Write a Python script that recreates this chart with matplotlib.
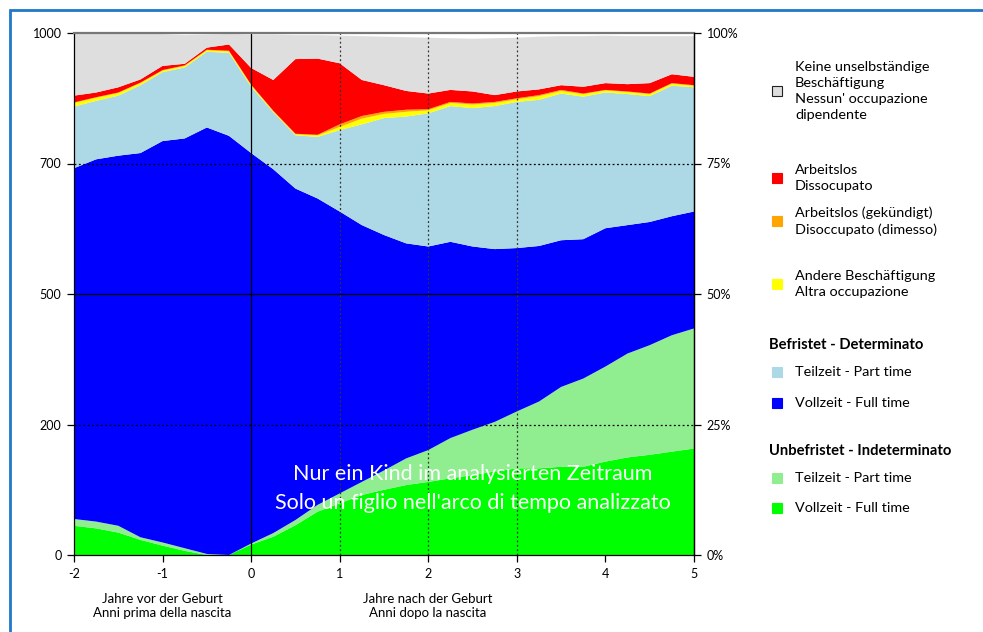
import numpy as np
import matplotlib
matplotlib.use("Agg")
import matplotlib.pyplot as plt
from matplotlib.patches import Rectangle

plt.rcParams['font.family'] = ['Lato', 'DejaVu Sans']

# Jahre relativ zur Geburt / anni rispetto alla nascita
anni = [-2.0, -1.75, -1.5, -1.25, -1.0, -0.75, -0.5, -0.25, 0.0, 0.25, 0.5, 0.75,
        1.0, 1.25, 1.5, 1.75, 2.0, 2.25, 2.5, 2.75, 3.0, 3.25, 3.5, 3.75,
        4.0, 4.25, 4.5, 4.75, 5.0]

# Unbefristet - Vollzeit
unbef_voll = [56, 51, 43, 29, 18, 8, 0, 0, 20, 35, 57, 83,
              99, 115, 125, 134, 140, 147, 153, 160, 166, 166, 169, 169,
              179, 187, 192, 198, 204]
# Unbefristet - Teilzeit
unbef_teil = [13, 13, 13, 5, 6, 5, 2, 0, 2, 7, 10, 13,
              19, 25, 37, 51, 61, 77, 87, 95, 109, 128, 153, 169,
              182, 199, 210, 223, 230]
# Befristet - Vollzeit
bef_voll = [672, 694, 709, 736, 769, 785, 817, 803, 748, 697, 635, 587,
            540, 492, 451, 412, 390, 376, 351, 331, 313, 298, 281, 267,
            265, 246, 236, 228, 224]
# Befristet - Teilzeit
bef_teil = [118, 112, 115, 130, 132, 136, 145, 159, 127, 109, 102, 118,
            156, 193, 224, 243, 255, 260, 265, 274, 280, 280, 281, 273,
            260, 251, 241, 250, 238]
# Andere Beschaeftigung
andere = [7, 6, 5, 4, 3, 3, 3, 3, 3, 2, 2, 3,
          6, 11, 8, 9, 6, 6, 7, 6, 5, 7, 5, 5,
          4, 4, 4, 4, 3]
# Arbeitslos (gekuendigt)
arbeitslos_gek = [1, 1, 1, 1, 1, 1, 1, 1, 1, 1, 1, 1,
                  5, 5, 4, 4, 2, 2, 2, 2, 2, 2, 2, 1,
                  1, 1, 1, 1, 1]
# Arbeitslos
arbeitslos = [13, 9, 10, 6, 8, 3, 4, 12, 32, 59, 143, 146,
              117, 69, 51, 36, 30, 23, 23, 13, 13, 11, 9, 13,
              13, 14, 20, 17, 16]
# Keine unselbstaendige Beschaeftigung
keine = [118, 112, 102, 87, 61, 55, 25, 20, 64, 87, 46, 45,
         53, 84, 93, 103, 107, 99, 101, 109, 103, 101, 94, 97,
         91, 92, 90, 73, 78]

serie = [unbef_voll, unbef_teil, bef_voll, bef_teil, andere, arbeitslos_gek, arbeitslos, keine]
colori = ['#00ff00', '#90ee90', '#0000ff', '#add8e6', '#ffff00', '#ffa500', '#ff0000', '#dedede']

ytick_pos = [0, 250, 500, 750, 1000]
ytick_lab = ['0', '200', '500', '700', '1000']
pct_lab = ['0%', '25%', '50%', '75%', '100%']

W, H = 983, 632
fig = plt.figure(figsize=(W / 100, H / 100), dpi=100)
ax = fig.add_axes([74 / W, 1 - 555 / H, 620 / W, 522 / H])

ax.stackplot(anni, *serie, colors=colori, linewidth=0)
ax.set_xlim(-2, 5)
ax.set_ylim(0, 1000)

# griglia
ax.axhline(500, color='black', lw=0.9)
for y in (250, 750):
    ax.axhline(y, color='black', lw=0.9, ls=(0, (1.5, 2)))
ax.axvline(0, color='black', lw=0.9)
for xv in (1, 2, 3):
    ax.axvline(xv, color='#333333', lw=0.9, ls=(0, (1.5, 2)))

ax.set_xticks(range(-2, 6))
ax.set_xticklabels([str(v) for v in range(-2, 6)])
ax.set_yticks(ytick_pos)
ax.set_yticklabels(ytick_lab)
ax.tick_params(direction='out', length=5, width=0.9, labelsize=9, colors='black', pad=4)
for s in ('left', 'right', 'bottom'):
    ax.spines[s].set_color('black')
    ax.spines[s].set_linewidth(0.9)
ax.spines['top'].set_color('#777777')
ax.spines['top'].set_linewidth(1.6)

ax2 = ax.twinx()
ax2.set_ylim(0, 1000)
ax2.set_yticks(ytick_pos)
ax2.set_yticklabels(pct_lab)
ax2.tick_params(direction='out', length=5, width=0.9, labelsize=9, pad=4)
ax2.spines['right'].set_linewidth(0.9)
for s in ('left', 'top', 'bottom'):
    ax2.spines[s].set_visible(False)

ax.text(2.5, 128, "Nur ein Kind im analysierten Zeitraum\nSolo un figlio nell'arco di tempo analizzato",
        color='white', fontsize=15.5, ha='center', va='center', linespacing=1.55)

# etichette asse x
fig.text(162 / W, 1 - 606 / H, "Jahre vor der Geburt\nAnni prima della nascita",
         ha='center', va='center', fontsize=9.5, linespacing=1.25)
fig.text(428 / W, 1 - 606 / H, "Jahre nach der Geburt\nAnni dopo la nascita",
         ha='center', va='center', fontsize=9.5, linespacing=1.25)

# legenda
def quadrato(py, colore, bordo=None):
    r = Rectangle((772 / W, 1 - (py + 5) / H), 10 / W, 10 / H, transform=fig.transFigure,
                  facecolor=colore, edgecolor=bordo if bordo else colore, lw=0.8)
    fig.patches.append(r)

def voce(py, testo):
    fig.text(795 / W, 1 - py / H, testo, ha='left', va='center', fontsize=10.4, linespacing=1.38)

quadrato(91, '#dedede', '#222222')
voce(91, "Keine unselbständige\nBeschäftigung\nNessun' occupazione\ndipendente")
quadrato(178, '#ff0000')
voce(178, "Arbeitslos\nDissocupato")
quadrato(221, '#ffa500')
voce(221, "Arbeitslos (gekündigt)\nDisoccupato (dimesso)")
quadrato(284, '#ffff00')
voce(284, "Andere Beschäftigung\nAltra occupazione")

fig.text(769 / W, 1 - 345 / H, "Befristet - Determinato", ha='left', va='center',
         fontsize=10.6, fontweight='bold')
quadrato(372, '#add8e6')
voce(372, "Teilzeit - Part time")
quadrato(403, '#0000ff')
voce(403, "Vollzeit - Full time")
fig.text(769 / W, 1 - 451 / H, "Unbefristet - Indeterminato", ha='left', va='center',
         fontsize=10.6, fontweight='bold')
quadrato(478, '#90ee90')
voce(478, "Teilzeit - Part time")
quadrato(508, '#00ff00')
voce(508, "Vollzeit - Full time")

# cornice blu
cornice = Rectangle((10 / W, -0.05), 1.1, 1 - 10 / H + 0.05, transform=fig.transFigure,
                    facecolor='none', edgecolor='#1f78c8', lw=2)
fig.patches.append(cornice)

fig.savefig("out.png", dpi=100)
